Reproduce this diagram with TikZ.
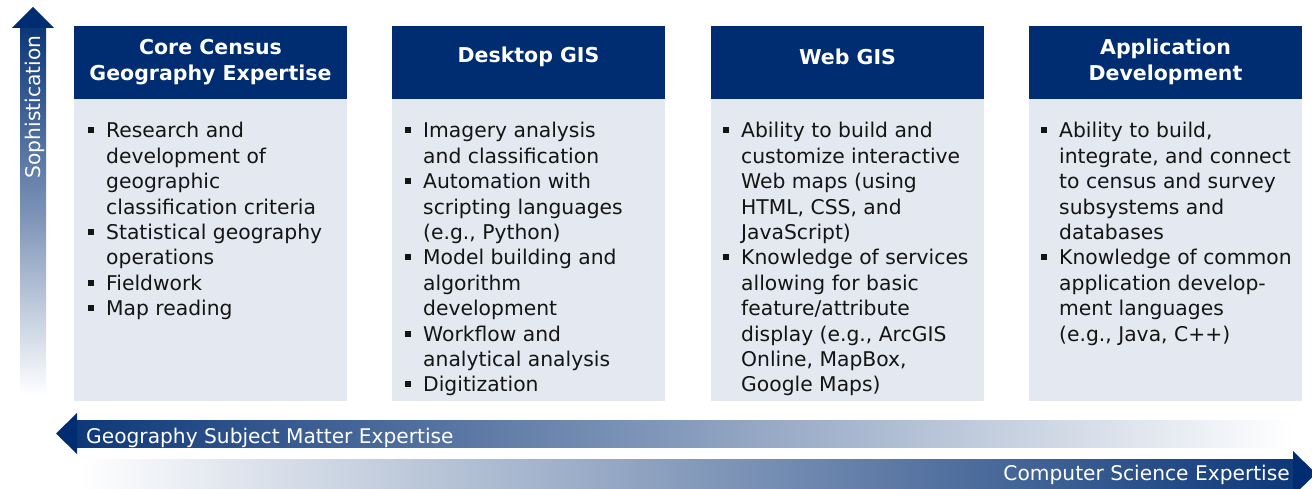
\documentclass[tikz,border=0pt]{standalone}
\usepackage{fontspec}
\setmainfont{DejaVu Sans}
\definecolor{navy}{RGB}{0,45,114}
\definecolor{bodyfill}{RGB}{228,233,241}
\definecolor{txt}{RGB}{20,20,20}
\newcommand\blt{\makebox[18pt][l]{\rule[4.5pt]{6pt}{6pt}}}
\newcommand\ind{\hspace*{18pt}}
\newcommand\bodyblock[1]{\parbox[t]{262pt}{\raggedright #1}}
\tikzset{
  header/.style={fill=navy, draw=none},
  bodybox/.style={fill=bodyfill, draw=none},
  headtext/.style={text=white, font=\bfseries\fontsize{20.5}{26}\selectfont, align=center, inner sep=0, anchor=center},
  bodytext/.style={text=txt, inner sep=0, anchor=base west, font=\fontsize{20.3}{25.4}\selectfont},
  arrowlabel/.style={text=white, font=\fontsize{20.2}{22}\selectfont, inner sep=0},
  arrowhead/.style={fill=navy, draw=none}
}
\begin{document}
\begin{tikzpicture}[x=1pt,y=1pt]
\useasboundingbox (0,0) rectangle (1312,488);
% vertical arrow
\shade[top color=navy!95, bottom color=white, middle color=navy!52] (20,93) rectangle (46,460);
\fill[arrowhead] (12,460) -- (54,460) -- (33,481) -- cycle;
\node[arrowlabel, rotate=90] (soph) at (34.5,381) {Sophistication};
% left arrow
\shade[left color=navy!95, right color=white] (76,41) rectangle (1292,68);
\fill[arrowhead] (77,75) -- (77,34) -- (56,54.5) -- cycle;
\node[arrowlabel, anchor=base west] (geo) at (86,44.5) {Geography Subject Matter Expertise};
% right arrow
\shade[left color=white, right color=navy!95] (80,0) rectangle (1294,29);
\fill[arrowhead] (1293,37) -- (1293,-8) -- (1316,14.5) -- cycle;
\node[arrowlabel, anchor=base east] (cs) at (1290,8) {Computer Science Expertise};
% boxes
\foreach \x/\n in {74/a,392/b,711/c,1029/d}{
  \fill[bodybox] (\x,87) rectangle ++(273,302);
  \fill[header] (\x,389) rectangle ++(273,73);
}
\node[headtext] (ha) at (210.5,426) {Core Census\\Geography Expertise};
\node[headtext] (hb) at (528.5,431) {Desktop GIS};
\node[headtext] (hc) at (847.5,431) {Web GIS};
\node[headtext] (hd) at (1165.5,426) {Application\\Development};
\node[bodytext] (ba) at (88,350) {\bodyblock{%
\blt Research and\\
\ind development of\\
\ind geographic\\
\ind classification criteria\\
\blt Statistical geography\\
\ind operations\\
\blt Fieldwork\\
\blt Map reading}};
\node[bodytext] (bb) at (405,350) {\bodyblock{%
\blt Imagery analysis\\
\ind and classification\\
\blt Automation with\\
\ind scripting languages\\
\ind (e.g., Python)\\
\blt Model building and\\
\ind algorithm\\
\ind development\\
\blt Workflow and\\
\ind analytical analysis\\
\blt Digitization}};
\node[bodytext] (bc) at (723,350) {\bodyblock{%
\blt Ability to build and\\
\ind customize interactive\\
\ind Web maps (using\\
\ind HTML, CSS, and\\
\ind JavaScript)\\
\blt Knowledge of services\\
\ind allowing for basic\\
\ind feature/attribute\\
\ind display (e.g., ArcGIS\\
\ind Online, MapBox,\\
\ind Google Maps)}};
\node[bodytext] (bd) at (1041,350) {\bodyblock{%
\blt Ability to build,\\
\ind integrate, and connect\\
\ind to census and survey\\
\ind subsystems and\\
\ind databases\\
\blt Knowledge of common\\
\ind application develop-\\
\ind ment languages\\
\ind (e.g., Java, C++)}};
\end{tikzpicture}
\end{document}
